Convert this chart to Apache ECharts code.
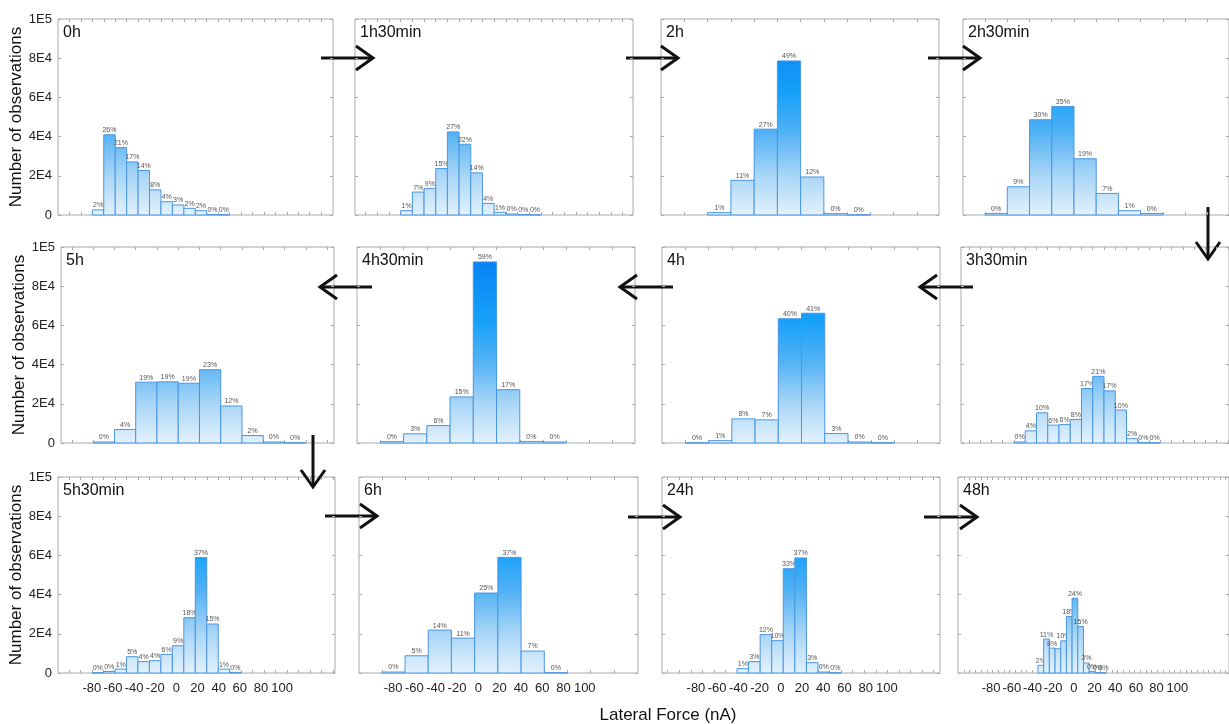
<!DOCTYPE html>
<html><head><meta charset="utf-8">
<script src="https://cdn.jsdelivr.net/npm/echarts@6/dist/echarts.min.js"></script>
<style>html,body{margin:0;padding:0;background:#fff}#c{width:1229px;height:724px}</style>
</head><body><div id="c"></div>
<script>
// ---------- DATA ----------
const panelNames = ['0h','1h30min','2h','2h30min','5h','4h30min','4h','3h30min','5h30min','6h','24h','48h'];
// histogram bin start (nA) and bin width (nA) for each panel
const binStarts = [-79.3, -68.9, -68, -90.3, -81.1, -90, -90, -60.2, -79.8, -90.6, -41.3, -34.7];
const binWidths = [10.9, 11.0, 21.9, 21.9, 20.4, 21.9, 21.9, 11.0, 10.85, 21.8, 10.9, 5.5];

const counts0h   = [2600, 40900, 34400, 27100, 22700, 12800, 6800, 5100, 3400, 2200, 300, 150];
const pct0h      = ['2%','26%','21%','17%','14%','8%','4%','3%','2%','2%','0%','0%'];
const counts1h30 = [2200, 11700, 13600, 23700, 42400, 36100, 21500, 5900, 1400, 500, 200, 100];
const pct1h30    = ['1%','7%','9%','15%','27%','22%','14%','4%','1%','0%','0%','0%'];
const counts2h   = [1200, 17700, 43800, 78600, 19400, 700, 100];
const pct2h      = ['1%','11%','27%','49%','12%','0%','0%'];
const counts2h30 = [800, 14400, 48600, 55400, 28700, 11000, 2200, 800];
const pct2h30    = ['0%','9%','30%','35%','19%','7%','1%','0%'];
const counts5h   = [500, 6900, 31000, 31200, 30500, 37400, 18900, 3800, 500, 100];
const pct5h      = ['0%','4%','19%','19%','19%','23%','12%','2%','0%','0%'];
const counts4h30 = [700, 4700, 8900, 23500, 92400, 27200, 800, 500];
const pct4h30    = ['0%','3%','6%','15%','59%','17%','0%','0%'];
const counts4h   = [100, 1200, 12300, 11800, 63400, 66200, 4800, 500, 100];
const pct4h      = ['0%','1%','8%','7%','40%','41%','3%','0%','0%'];
const counts3h30 = [500, 6200, 15400, 9100, 9400, 12000, 27800, 34000, 26600, 16800, 2200, 300, 100];
const pct3h30    = ['0%','4%','10%','6%','6%','8%','17%','21%','17%','10%','2%','0%','0%'];
const counts5h30 = [100, 800, 2000, 8300, 5800, 6300, 9500, 13900, 28200, 58900, 25000, 2000, 300];
const pct5h30    = ['0%','0%','1%','5%','4%','4%','6%','9%','18%','37%','15%','1%','0%'];
const counts6h   = [500, 8800, 21900, 17800, 40800, 59000, 11200, 100];
const pct6h      = ['0%','5%','14%','11%','25%','37%','7%','0%'];
const counts24h  = [2200, 5800, 19600, 16500, 53200, 58700, 5300, 500, 100];
const pct24h     = ['1%','3%','12%','10%','33%','37%','3%','0%','0%'];
const counts48h  = [3900, 17300, 12700, 12400, 16400, 28800, 38100, 23700, 5100, 800, 200, 100];
const pct48h     = ['2%','11%','8%','','10%','18%','24%','15%','3%','0%','0%','0%'];

const xTickLabels = [-80, -60, -40, -20, 0, 20, 40, 60, 80, 100];
const yTickLabels = ['0', '2E4', '4E4', '6E4', '8E4', '1E5'];
const yAxisTitle = 'Number of observations';
const xAxisTitle = 'Lateral Force (nA)';

const allCounts = [counts0h, counts1h30, counts2h, counts2h30, counts5h, counts4h30, counts4h, counts3h30, counts5h30, counts6h, counts24h, counts48h];
const allPcts = [pct0h, pct1h30, pct2h, pct2h30, pct5h, pct4h30, pct4h, pct3h30, pct5h30, pct6h, pct24h, pct48h];

// ---------- LAYOUT ----------
const FONT = 'Liberation Sans, Arial, sans-serif';
const gridLeft  = [58, 355, 661, 963, 61, 357, 662, 961, 58, 359, 662, 958];
const gridWidth = [275, 278, 278, 278, 273, 278, 278, 278, 277, 279, 278, 278];
const rowTop = [19, 247, 477];
const gridHeight = 196;
const X_MIN = -112, X_MAX = 150, Y_MAX = 100000;

const barStops = [
  {offset: 0, color: '#e3f1fc'},
  {offset: 0.2, color: '#a9d6f7'},
  {offset: 0.42, color: '#52b1f4'},
  {offset: 0.62, color: '#17a1fa'},
  {offset: 0.85, color: '#0a8bf5'},
  {offset: 1, color: '#0a78ee'}
];

function makeRender(labels) {
  return function (params, api) {
    const x0 = api.value(0), x1 = api.value(1), v = api.value(2);
    const a = api.coord([x0, v]);
    const b = api.coord([x1, 0]);
    const yTop = api.coord([x0, Y_MAX])[1];
    const grad = {type: 'linear', x: 0, y: b[1], x2: 0, y2: yTop, global: true, colorStops: barStops};
    return {
      type: 'group',
      children: [
        {type: 'rect', shape: {x: a[0], y: a[1], width: b[0] - a[0], height: b[1] - a[1]},
         style: {fill: grad, stroke: '#4a96e3', lineWidth: 1}},
        {type: 'text', x: (a[0] + b[0]) / 2, y: a[1] - 1,
         style: {text: labels[params.dataIndex], align: 'center', verticalAlign: 'bottom',
                 fontSize: 7, fill: '#555', fontFamily: FONT}}
      ]
    };
  };
}

const grids = [], xAxes = [], yAxes = [], series = [], titles = [];
for (let i = 0; i < 12; i++) {
  const row = Math.floor(i / 4), col = i % 4;
  const start = binStarts[i], w = binWidths[i];
  grids.push({left: gridLeft[i], top: rowTop[row], width: gridWidth[i], height: gridHeight,
              show: true, borderColor: '#aaa', borderWidth: 1, backgroundColor: 'transparent'});
  const edges = [];
  for (let e = start - 30 * w; e <= X_MAX; e += w) if (e > X_MIN + 1 && e < X_MAX - 1) edges.push(+e.toFixed(2));
  const tickCfg = {show: true, inside: true, length: 3, lineStyle: {color: '#aaa'}, customValues: edges};
  const noLine = {show: false, onZero: false};
  xAxes.push({type: 'value', gridIndex: i, min: X_MIN, max: X_MAX, position: 'bottom',
    axisLine: noLine, splitLine: {show: false}, axisTick: tickCfg,
    axisLabel: {show: row === 2, customValues: xTickLabels, fontSize: 13, color: '#222', margin: 9, fontFamily: FONT}});
  xAxes.push({type: 'value', gridIndex: i, min: X_MIN, max: X_MAX, position: 'top',
    axisLine: noLine, splitLine: {show: false}, axisTick: tickCfg, axisLabel: {show: false}});
  const yTick = {show: true, inside: true, length: 3, lineStyle: {color: '#aaa'}};
  yAxes.push({type: 'value', gridIndex: i, min: 0, max: Y_MAX, interval: 20000, position: 'left',
    axisLine: noLine, splitLine: {show: false}, axisTick: yTick,
    axisLabel: {show: col === 0, formatter: v => yTickLabels[Math.round(v / 20000)], fontSize: 13, color: '#222', margin: 6, fontFamily: FONT},
    name: col === 0 ? yAxisTitle : '', nameLocation: 'middle', nameGap: 27,
    nameTextStyle: {fontSize: 17, color: '#111', fontFamily: FONT}});
  yAxes.push({type: 'value', gridIndex: i, min: 0, max: Y_MAX, interval: 20000, position: 'right',
    axisLine: noLine, splitLine: {show: false}, axisTick: yTick, axisLabel: {show: false}});
  series.push({
    type: 'custom', name: panelNames[i], xAxisIndex: 2 * i, yAxisIndex: 2 * i,
    data: allCounts[i].map((v, k) => [start + k * w, start + (k + 1) * w, v]),
    encode: {x: [0, 1], y: 2},
    renderItem: makeRender(allPcts[i]),
    silent: true
  });
  titles.push({text: panelNames[i], left: gridLeft[i] + 5, top: rowTop[row] + 6, padding: 0,
    textStyle: {fontSize: 16, fontWeight: 'normal', color: '#111', fontFamily: FONT}});
}

// transition arrows between panels (annotation, pixel layout)
const arrows = [
  [321, 58, 373, 58], [626, 58, 678, 58], [928, 58, 980, 58], [1208, 207, 1208, 259],
  [372, 287, 320, 287], [673, 287, 620, 287], [973, 287, 920, 287], [313, 435, 313, 487],
  [325, 516, 377, 516], [628, 517, 680, 517], [924, 517, 977, 517]
];
const graphics = [];
arrows.forEach(([x1, y1, x2, y2]) => {
  const L = Math.hypot(x2 - x1, y2 - y1), dx = (x2 - x1) / L, dy = (y2 - y1) / L;
  const nx = -dy, ny = dx, hl = 17, hw = 12;
  graphics.push({type: 'line', shape: {x1, y1, x2, y2}, style: {stroke: '#111', lineWidth: 3}, silent: true});
  graphics.push({type: 'polyline', shape: {points: [
    [x2 - hl * dx + hw * nx, y2 - hl * dy + hw * ny], [x2, y2], [x2 - hl * dx - hw * nx, y2 - hl * dy - hw * ny]]},
    style: {stroke: '#111', lineWidth: 3, fill: 'none', lineJoin: 'miter'}, silent: true});
});
graphics.push({type: 'text', x: 668, y: 715, style: {text: xAxisTitle, align: 'center', verticalAlign: 'middle',
  fontSize: 17, fill: '#111', fontFamily: FONT}});

const chart = echarts.init(document.getElementById('c'));
chart.setOption({
  animation: false,
  backgroundColor: '#fff',
  title: titles,
  grid: grids,
  xAxis: xAxes,
  yAxis: yAxes,
  series: series,
  graphic: graphics
});
</script></body></html>
